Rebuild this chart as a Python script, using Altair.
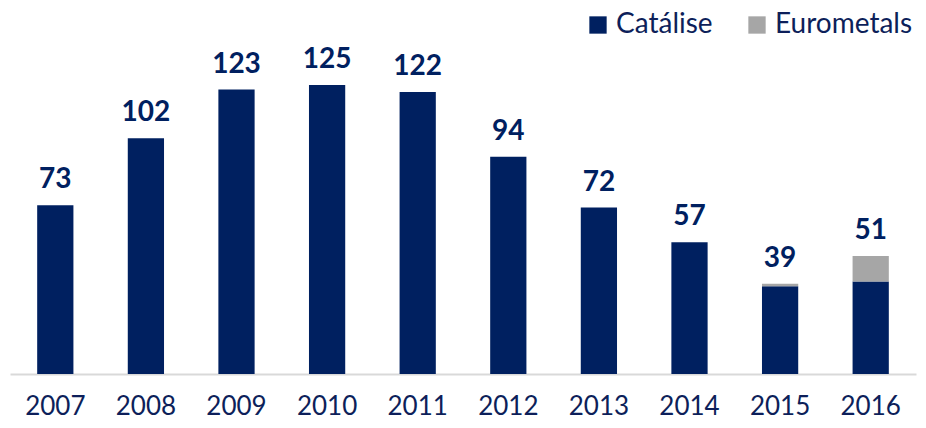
import altair as alt
import pandas as pd

years = ["2007", "2008", "2009", "2010", "2011", "2012", "2013", "2014", "2015", "2016"]
catalise = [73, 102, 123, 125, 122, 94, 72, 57, 38, 40]
eurometals = [0, 0, 0, 0, 0, 0, 0, 0, 1, 11]
series = ["Catálise", "Eurometals"]
colors = ["#002060", "#A6A6A6"]

rows = []
for y, c, e in zip(years, catalise, eurometals):
    rows.append({"year": y, "series": series[0], "value": c, "ord": 0})
    rows.append({"year": y, "series": series[1], "value": e, "ord": 1})
df = pd.DataFrame(rows)
totals = pd.DataFrame({"year": years, "total": [c + e for c, e in zip(catalise, eurometals)]})

font = "Lato"
navy = "#0D1F5A"

x = alt.X("year:N", sort=years, title=None,
          scale=alt.Scale(paddingInner=0.6, paddingOuter=0.3, round=False),
          axis=alt.Axis(labelAngle=0, labelFontSize=26, labelColor=navy, labelFont=font,
                        ticks=False, domainColor="#D9D9D9", domainWidth=2, labelPadding=19))

bars = alt.Chart(df).mark_bar().encode(
    x=x,
    y=alt.Y("value:Q", stack="zero", title=None,
            scale=alt.Scale(domain=[0, 141], nice=False), axis=None),
    color=alt.Color("series:N", scale=alt.Scale(domain=series, range=colors),
                    legend=alt.Legend(title=None, orient="none", direction="horizontal",
                                      legendX=574, legendY=-37, symbolType="square",
                                      symbolSize=300, symbolStrokeWidth=0, labelFontSize=28,
                                      labelFont=font, labelColor=navy, columnPadding=30,
                                      symbolOpacity=1)),
    order=alt.Order("ord:Q"),
)

labels = alt.Chart(totals).mark_text(baseline="bottom", dy=-11, fontSize=28, fontWeight="bold",
                                      font=font, color="#002060").encode(
    x=alt.X("year:N", sort=years),
    y=alt.Y("total:Q"),
    text="total:Q",
)

chart = (bars + labels).properties(
    width=906, height=326,
    autosize=alt.AutoSizeParams(type="none"),
    padding={"left": 2, "top": 40, "right": 2, "bottom": 44},
).configure_view(stroke=None).configure_axis(grid=False)

chart.save("out.html", embed_options={"renderer": "svg", "actions": False})
